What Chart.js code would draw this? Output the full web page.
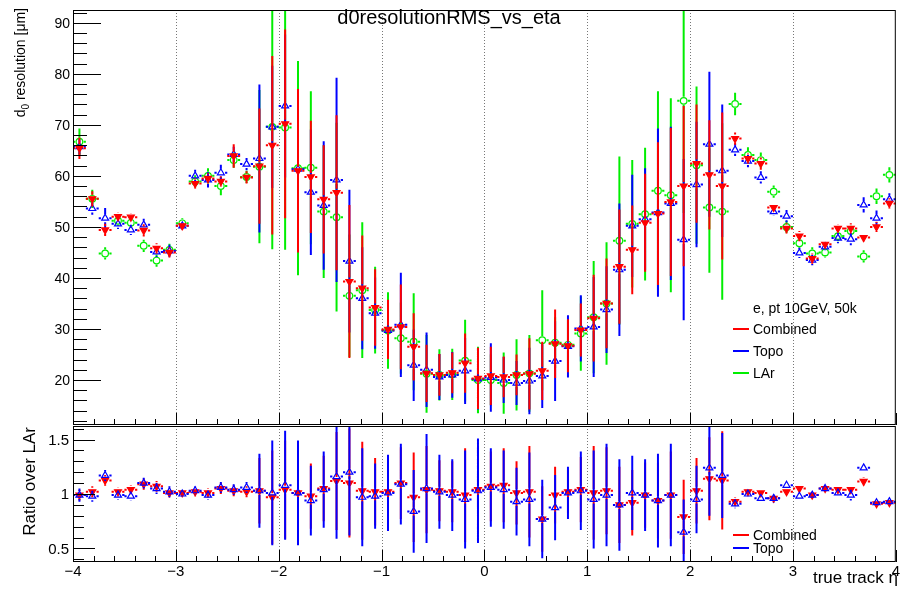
<!DOCTYPE html>
<html>
<head>
<meta charset="utf-8">
<title>d0resolutionRMS_vs_eta</title>
<script src="https://cdn.jsdelivr.net/npm/chart.js@4.4.0/dist/chart.umd.min.js"></script>
<style>
  html, body { margin: 0; padding: 0; background: #fff; }
  #wrap { position: relative; width: 901px; height: 591px; }
  #wrap canvas { position: absolute; left: 0; top: 0; }
</style>
</head>
<body>
<div id="wrap">
  <canvas id="mainPad" width="901" height="591"></canvas>
  <canvas id="ratioPad" width="901" height="591"></canvas>
</div>
<script>
// eta bin centres (64 bins of width 0.125 between -4 and 4)
const etaCenters = [
  -3.9375, -3.8125, -3.6875, -3.5625, -3.4375, -3.3125, -3.1875, -3.0625,
  -2.9375, -2.8125, -2.6875, -2.5625, -2.4375, -2.3125, -2.1875, -2.0625,
  -1.9375, -1.8125, -1.6875, -1.5625, -1.4375, -1.3125, -1.1875, -1.0625,
  -0.9375, -0.8125, -0.6875, -0.5625, -0.4375, -0.3125, -0.1875, -0.0625,
  0.0625, 0.1875, 0.3125, 0.4375, 0.5625, 0.6875, 0.8125, 0.9375,
  1.0625, 1.1875, 1.3125, 1.4375, 1.5625, 1.6875, 1.8125, 1.9375,
  2.0625, 2.1875, 2.3125, 2.4375, 2.5625, 2.6875, 2.8125, 2.9375,
  3.0625, 3.1875, 3.3125, 3.4375, 3.5625, 3.6875, 3.8125, 3.9375
];
const binHalfWidth = 0.0625;

// d0 resolution RMS [um]
const combined = [
  65.4, 55.5, 49.4, 52.0, 51.9, 49.3, 45.8, 45.0, 50.2, 58.5,
  59.5, 58.9, 63.9, 59.7, 61.9, 66.0, 70.2, 61.0, 59.8, 55.4,
  56.7, 39.3, 38.0, 34.2, 29.9, 30.4, 26.5, 21.3, 21.0, 21.4,
  23.3, 20.3, 20.8, 20.6, 21.0, 21.2, 21.8, 27.1, 26.7, 29.8,
  32.1, 35.0, 42.2, 45.5, 50.8, 52.6, 54.9, 58.0, 62.4, 60.2,
  58.0, 67.3, 63.4, 62.4, 53.8, 49.7, 48.2, 43.8, 46.6, 49.7,
  49.7, 47.9, 50.0, 54.6
];
const combinedErr = [
  2.1, 1.5, 1.2, 0.8, 0.8, 1.2, 1.0, 1.0, 0.8, 1.0,
  1.0, 1.0, 2.3, 1.2, 11.3, 17.5, 18.5, 16, 11, 10.6,
  15.2, 15, 10.3, 7.5, 5.8, 8.3, 6.6, 5.6, 4.1, 4,
  5.8, 6, 5.7, 4, 4, 7, 5.7, 6.7, 5.2, 5.2,
  8.5, 8.8, 11.2, 8.7, 9.6, 14, 14.5, 15.7, 11.6, 10.7,
  14.4, 1.2, 1.0, 1.2, 0.8, 1.0, 1.0, 1.0, 0.8, 0.8,
  1.0, 0.8, 1.0, 1.0
];
const topo = [
  65.7, 53.6, 51.7, 50.6, 49.4, 50.4, 45.1, 45.3, 50.2, 60.0,
  59.2, 60.6, 64.2, 62.3, 63.4, 69.6, 73.7, 61.3, 56.8, 54.2,
  59.2, 43.3, 36.0, 33.1, 29.7, 30.8, 22.9, 22.0, 20.6, 21.0,
  21.8, 20.2, 20.5, 20.0, 19.4, 19.8, 20.8, 23.7, 26.6, 30.1,
  30.4, 33.8, 41.6, 50.2, 51.5, 52.8, 54.6, 47.5, 58.3, 66.2,
  61.0, 65.1, 62.9, 59.7, 53.0, 52.1, 44.9, 43.5, 46.1, 47.8,
  47.6, 54.3, 51.7, 55.4
];
const topoErr = [
  1.5, 1.2, 2, 1, 1, 1.2, 1, 1.2, 0.8, 1.2,
  1.5, 1.6, 1.5, 1.2, 14.5, 12, 14, 15, 12.3, 12.6,
  20, 14, 10, 7, 5.5, 10.2, 7, 7.3, 4.5, 4.5,
  6.5, 6, 6.7, 4.5, 4.3, 6.5, 6.3, 7.8, 6.1, 6.5,
  9.8, 8.5, 13, 10, 10, 16.5, 15, 15.8, 12.3, 14.2,
  13, 1.2, 1.2, 1.2, 0.8, 1.2, 1, 1, 0.8, 1,
  1.2, 1.5, 1.5, 1.2
];
const lar = [
  66.7, 55.5, 44.8, 51.2, 50.8, 46.3, 43.4, 45.5, 50.7, 58.9,
  60.0, 58.0, 63.1, 59.8, 61.8, 69.6, 69.5, 61.5, 61.6, 53.0,
  51.9, 36.5, 37.6, 33.7, 29.7, 28.2, 27.5, 21.2, 21.0, 21.1,
  23.8, 20.0, 20.0, 19.4, 21.0, 21.3, 27.8, 27.3, 26.9, 29.1,
  32.3, 35.0, 47.3, 50.6, 52.5, 57.1, 56.2, 74.7, 62.1, 53.8,
  53.0, 74.1, 64.1, 63.1, 56.9, 50.0, 46.8, 44.8, 45.0, 48.2,
  49.2, 44.2, 56.0, 60.2
];
const larErr = [
  2.6, 1.8, 1.2, 1, 1, 1.2, 1.2, 1.2, 1, 1.2,
  1.5, 1.8, 1.5, 1.2, 15, 24, 24, 21, 15, 13,
  18.5, 12, 13.3, 8.5, 7.5, 7, 9.5, 7.6, 5, 5,
  8, 6.5, 5, 6, 7, 7.5, 9.8, 5, 5, 7.3,
  11, 12, 16.5, 12.5, 13, 19.5, 19, 22, 15.4, 12.8,
  17.3, 2.2, 1.5, 1.5, 1.2, 1.2, 1, 1.2, 1, 1,
  1, 1.2, 1.5, 1.5
];

// ratios over LAr
const ratioCombined = [
  0.99, 1.02, 1.125, 1.02, 1.04, 1.09, 1.07, 1.01, 1.01, 1.02,
  1.01, 1.05, 1.03, 1.02, 1.03, 0.97, 1.04, 1.01, 0.98, 1.05,
  1.12, 1.10, 1.03, 1.02, 1.02, 1.10, 0.97, 1.04, 1.03, 1.02,
  0.99, 1.04, 1.07, 1.08, 1.01, 1.02, 0.77, 0.99, 1.02, 1.04,
  1.01, 1.03, 0.90, 0.92, 0.99, 0.94, 0.99, 0.79, 1.03, 1.14,
  1.125, 0.93, 1.02, 1.01, 0.96, 1.02, 1.05, 0.99, 1.05, 1.04,
  1.04, 1.115, 0.91, 0.92
];
const ratioCombinedErr = [
  0.05, 0.05, 0.05, 0.04, 0.04, 0.05, 0.05, 0.04, 0.03, 0.04,
  0.04, 0.05, 0.05, 0.05, 0.3, 0.43, 0.45, 0.4, 0.3, 0.3,
  0.45, 0.5, 0.45, 0.31, 0.3, 0.33, 0.41, 0.4, 0.28, 0.28,
  0.43, 0.4, 0.32, 0.34, 0.29, 0.42, 0.3, 0.26, 0.2, 0.3,
  0.43, 0.4, 0.35, 0.3, 0.3, 0.35, 0.4, 0.34, 0.3, 0.38,
  0.45, 0.04, 0.03, 0.03, 0.03, 0.03, 0.03, 0.03, 0.03, 0.03,
  0.03, 0.04, 0.03, 0.03
];
const ratioTopo = [
  0.99, 0.98, 1.17, 0.99, 0.98, 1.10, 1.05, 1.02, 1.00, 1.03,
  0.99, 1.06, 1.04, 1.06, 1.03, 1.01, 1.08, 1.01, 0.94, 1.04,
  1.16, 1.20, 0.97, 0.98, 1.01, 1.09, 0.84, 1.05, 1.02, 0.99,
  0.95, 1.03, 1.06, 1.04, 0.93, 0.95, 0.77, 0.875, 1.01, 1.03,
  0.95, 0.99, 0.90, 1.01, 0.99, 0.94, 0.99, 0.65, 0.95, 1.24,
  1.17, 0.91, 1.00, 0.96, 0.96, 1.08, 0.98, 0.99, 1.05, 1.01,
  0.99, 1.24, 0.92, 0.93
];
const ratioTopoErr = [
  0.06, 0.05, 0.05, 0.04, 0.04, 0.05, 0.05, 0.05, 0.03, 0.04,
  0.04, 0.05, 0.05, 0.05, 0.34, 0.48, 0.5, 0.48, 0.32, 0.35,
  0.57, 0.58, 0.45, 0.3, 0.35, 0.37, 0.38, 0.5, 0.34, 0.33,
  0.45, 0.48, 0.36, 0.36, 0.31, 0.43, 0.36, 0.3, 0.24, 0.36,
  0.45, 0.47, 0.42, 0.34, 0.33, 0.43, 0.47, 0.3, 0.31, 0.44,
  0.39, 0.04, 0.03, 0.03, 0.04, 0.03, 0.03, 0.03, 0.03, 0.03,
  0.05, 0.03, 0.03
];

const xTicks = [-4, -3, -2, -1, 0, 1, 2, 3, 4];
const yTicksMain = [20, 30, 40, 50, 60, 70, 80, 90];
const yTicksRatio = [0.5, 1, 1.5];

const RED = '#ff0000', BLUE = '#0000ff', GREEN = '#00ee00';
const FONT = '"Liberation Sans", Arial, Helvetica, sans-serif';

function points(ys) {
  return etaCenters.map((x, i) => ({ x: x, y: ys[i] }));
}

function makeDatasets(list) {
  // first entry ends up on top (chart.js paints index 0 last)
  return list.map(s => ({
    label: s.label,
    data: points(s.values),
    errors: s.errors,
    color: s.color,
    showLine: false,
    pointStyle: s.style,
    pointRotation: s.rotation || 0,
    pointRadius: s.radius,
    pointBorderWidth: 1.2,
    pointBorderColor: s.color,
    pointBackgroundColor: s.filled ? s.color : 'rgba(0,0,0,0)',
    clip: false
  }));
}

function clipArea(ctx, a) {
  ctx.beginPath();
  ctx.rect(a.left, a.top, a.right - a.left, a.bottom - a.top);
  ctx.clip();
}

// ROOT-like error bars, with a gap around the marker
const errorBars = {
  id: 'errorBars',
  beforeDatasetDraw(chart, args) {
    const ds = chart.data.datasets[args.index];
    const ctx = chart.ctx, xs = chart.scales.x, ys = chart.scales.y;
    const gap = 4, hgap = 4.2;
    ctx.save();
    clipArea(ctx, chart.chartArea);
    ctx.strokeStyle = ds.color;
    ctx.lineWidth = 2;
    ctx.beginPath();
    ds.data.forEach((p, i) => {
      const cx = xs.getPixelForValue(p.x), cy = ys.getPixelForValue(p.y);
      const xl = xs.getPixelForValue(p.x - binHalfWidth);
      const xr = xs.getPixelForValue(p.x + binHalfWidth);
      const yt = ys.getPixelForValue(p.y + ds.errors[i]);
      const yb = ys.getPixelForValue(p.y - ds.errors[i]);
      ctx.moveTo(xl, cy); ctx.lineTo(cx - hgap, cy);
      ctx.moveTo(cx + hgap, cy); ctx.lineTo(xr, cy);
      if (cy - gap > yt) {
        ctx.moveTo(cx, yt); ctx.lineTo(cx, cy - gap);
        ctx.moveTo(cx, cy + gap); ctx.lineTo(cx, yb);
      }
    });
    ctx.stroke();
    ctx.restore();
  }
};

// dotted vertical grid at the integer eta values
const etaGrid = {
  id: 'etaGrid',
  beforeDatasetsDraw(chart) {
    const ctx = chart.ctx, a = chart.chartArea, xs = chart.scales.x;
    ctx.save();
    ctx.strokeStyle = '#777';
    ctx.lineWidth = 1;
    ctx.setLineDash([1, 2]);
    ctx.beginPath();
    xTicks.slice(1, -1).forEach(v => {
      const px = Math.round(xs.getPixelForValue(v)) + 0.5;
      ctx.moveTo(px, a.top); ctx.lineTo(px, a.bottom);
    });
    ctx.stroke();
    ctx.restore();
  }
};

function drawFrame(ctx, a) {
  ctx.strokeStyle = '#000';
  ctx.lineWidth = 1;
  ctx.strokeRect(a.left + 0.5, a.top + 0.5, a.right - a.left - 1, a.bottom - a.top - 1);
}

function drawXTicks(ctx, a, xs, majorLen, minorLen) {
  ctx.beginPath();
  for (let k = 0; k <= 40; k++) {
    const v = -4 + k * 0.2;
    const px = Math.round(xs.getPixelForValue(v)) + 0.5;
    const len = (k % 5 === 0) ? majorLen : minorLen;
    ctx.moveTo(px, a.bottom); ctx.lineTo(px, a.bottom - len);
  }
  ctx.stroke();
}

function drawYTicks(ctx, a, ys, majors, step, lo, hi, majorLen, minorLen) {
  ctx.beginPath();
  const n = Math.round((hi - lo) / step);
  for (let k = 0; k <= n; k++) {
    const v = lo + k * step;
    if (v < ys.min || v > ys.max) continue;
    const isMajor = majors.some(m => Math.abs(m - v) < 1e-6);
    const py = Math.round(ys.getPixelForValue(v)) + 0.5;
    ctx.moveTo(a.left, py); ctx.lineTo(a.left + (isMajor ? majorLen : minorLen), py);
  }
  ctx.stroke();
}

function drawYLabels(ctx, ys, majors, fmt, x, size) {
  ctx.fillStyle = '#000';
  ctx.font = size + 'px ' + FONT;
  ctx.textAlign = 'right';
  ctx.textBaseline = 'middle';
  majors.forEach(v => ctx.fillText(fmt(v), x, ys.getPixelForValue(v) + 1));
}

function legendEntry(ctx, x, y, color, text, size) {
  ctx.strokeStyle = color;
  ctx.lineWidth = 2;
  ctx.beginPath();
  ctx.moveTo(x, y); ctx.lineTo(x + 16, y);
  ctx.stroke();
  ctx.fillStyle = '#000';
  ctx.font = size + 'px ' + FONT;
  ctx.textAlign = 'left';
  ctx.textBaseline = 'alphabetic';
  ctx.fillText(text, x + 20, y + 5);
}

// axes, labels, title and legend of the upper pad
const mainDecor = {
  id: 'mainDecor',
  afterDraw(chart) {
    const ctx = chart.ctx, a = chart.chartArea, xs = chart.scales.x, ys = chart.scales.y;
    ctx.save();
    drawFrame(ctx, a);
    ctx.strokeStyle = '#000';
    ctx.lineWidth = 1;
    drawXTicks(ctx, a, xs, 12, 6);
    drawYTicks(ctx, a, ys, yTicksMain, 2, 12, 92, 28, 14);
    drawYLabels(ctx, ys, yTicksMain, v => String(v), 70, 14);

    // title
    ctx.fillStyle = '#000';
    ctx.font = '20px ' + FONT;
    ctx.textAlign = 'center';
    ctx.textBaseline = 'alphabetic';
    ctx.fillText('d0resolutionRMS_vs_eta', 449, 24);

    // y title with subscript, aligned to the top of the axis
    ctx.save();
    ctx.translate(25, 8);
    ctx.rotate(-Math.PI / 2);
    ctx.textAlign = 'left';
    const big = '14px ' + FONT, small = '10px ' + FONT;
    ctx.font = big; const w1 = ctx.measureText('d').width;
    ctx.font = small; const w2 = ctx.measureText('0').width;
    ctx.font = big; const w3 = ctx.measureText(' resolution [\u03bcm]').width;
    let x0 = -(w1 + w2 + w3);
    ctx.font = big; ctx.fillText('d', x0, 0);
    ctx.font = small; ctx.fillText('0', x0 + w1, 4);
    ctx.font = big; ctx.fillText(' resolution [\u03bcm]', x0 + w1 + w2, 0);
    ctx.restore();

    // legend
    ctx.fillStyle = '#000';
    ctx.font = '14px ' + FONT;
    ctx.textAlign = 'left';
    ctx.fillText('e, pt 10GeV, 50k', 753, 313);
    legendEntry(ctx, 733, 329, RED, 'Combined', 14);
    legendEntry(ctx, 733, 351, BLUE, 'Topo', 14);
    legendEntry(ctx, 733, 373, GREEN, 'LAr', 14);
    ctx.restore();
  }
};

// axes, labels and legend of the ratio pad
const ratioDecor = {
  id: 'ratioDecor',
  afterDraw(chart) {
    const ctx = chart.ctx, a = chart.chartArea, xs = chart.scales.x, ys = chart.scales.y;
    ctx.save();
    drawFrame(ctx, a);
    ctx.strokeStyle = '#000';
    ctx.lineWidth = 1;
    drawXTicks(ctx, a, xs, 12, 6);
    drawYTicks(ctx, a, ys, yTicksRatio, 0.1, 0.4, 1.6, 22, 11);
    drawYLabels(ctx, ys, yTicksRatio, v => String(v), 69, 15);

    // eta labels
    ctx.fillStyle = '#000';
    ctx.font = '15px ' + FONT;
    ctx.textAlign = 'center';
    ctx.textBaseline = 'alphabetic';
    xTicks.forEach(v => {
      const t = v < 0 ? '\u2212' + Math.abs(v) : String(v);
      ctx.fillText(t, xs.getPixelForValue(v), 576);
    });
    ctx.font = '17px ' + FONT;
    ctx.textAlign = 'right';
    ctx.fillText('true track \u03b7', 898, 583);

    // y title
    ctx.save();
    ctx.translate(35, 427);
    ctx.rotate(-Math.PI / 2);
    ctx.textAlign = 'right';
    ctx.font = '17px ' + FONT;
    ctx.fillText('Ratio over LAr', 0, 0);
    ctx.restore();

    legendEntry(ctx, 733, 535, RED, 'Combined', 14);
    legendEntry(ctx, 733, 548, BLUE, 'Topo', 14);
    ctx.restore();
  }
};

const baseScales = (ymin, ymax) => ({
  x: { type: 'linear', min: -4, max: 4, display: false },
  y: { type: 'linear', min: ymin, max: ymax, display: false }
});

const commonOptions = (padding, ymin, ymax) => ({
  responsive: false,
  animation: false,
  devicePixelRatio: 1,
  events: [],
  layout: { padding: padding },
  scales: baseScales(ymin, ymax),
  plugins: { legend: { display: false }, title: { display: false }, tooltip: { enabled: false } }
});

new Chart(document.getElementById('mainPad'), {
  type: 'scatter',
  data: {
    datasets: makeDatasets([
      { label: 'Combined', values: combined, errors: combinedErr, color: RED, style: 'triangle', rotation: 180, radius: 4, filled: true },
      { label: 'Topo', values: topo, errors: topoErr, color: BLUE, style: 'triangle', radius: 4, filled: false },
      { label: 'LAr', values: lar, errors: larErr, color: GREEN, style: 'circle', radius: 3.3, filled: false }
    ])
  },
  options: commonOptions({ left: 73, right: 4, top: 10, bottom: 166 }, 11.18, 92.5),
  plugins: [etaGrid, errorBars, mainDecor]
});

// in the ratio pad the Topo histogram is painted over the Combined one
new Chart(document.getElementById('ratioPad'), {
  type: 'scatter',
  data: {
    datasets: makeDatasets([
      { label: 'Topo', values: ratioTopo, errors: ratioTopoErr, color: BLUE, style: 'triangle', radius: 4, filled: false },
      { label: 'Combined', values: ratioCombined, errors: ratioCombinedErr, color: RED, style: 'triangle', rotation: 180, radius: 4, filled: true }
    ])
  },
  options: commonOptions({ left: 73, right: 4, top: 426, bottom: 29 }, 0.376, 1.624),
  plugins: [etaGrid, errorBars, ratioDecor]
});
</script>
</body>
</html>
